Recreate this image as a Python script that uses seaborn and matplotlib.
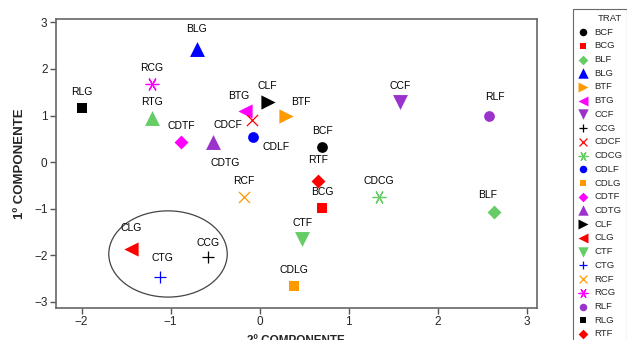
import matplotlib
matplotlib.use("Agg")
import matplotlib.pyplot as plt
from matplotlib.patches import Ellipse
import seaborn as sns

# Tratamientos y coordenadas en los dos primeros componentes
tratamientos = ["BCF", "BCG", "BLF", "BLG", "BTF", "BTG", "CCF", "CCG",
                "CDCF", "CDCG", "CDLF", "CDLG", "CDTF", "CDTG", "CLF", "CLG",
                "CTF", "CTG", "RCF", "RCG", "RLF", "RLG", "RTF", "RTG"]
comp2 = [0.70, 0.70, 2.63, -0.71, 0.30, -0.17, 1.58, -0.58,
         -0.09, 1.34, -0.08, 0.38, -0.88, -0.52, 0.09, -1.45,
         0.48, -1.12, -0.18, -1.21, 2.57, -2.00, 0.65, -1.21]
comp1 = [0.32, -0.99, -1.07, 2.42, 0.99, 1.09, 1.30, -2.04,
         0.90, -0.75, 0.53, -2.66, 0.43, 0.43, 1.29, -1.87,
         -1.65, -2.47, -0.75, 1.67, 0.99, 1.16, -0.41, 0.94]

# Elipse que agrupa CLG, CTG y CCG
elipse_centro = (-1.03, -1.97)
elipse_ancho = 1.33
elipse_alto = 1.85

# Estilo tipo Minitab: colores y simbolos ciclicos
colores = ["black", "#ff0000", "#66cc66", "#0000ff", "#ff9900", "#ff00ff", "#9933cc"]
marcadores = ["o", "s", "D", "^", ">", "<", "v", "+", "x", (6, 2, 90)]
tamanos = {"o": 60, "s": 50, "D": 50, "^": 115, ">": 105, "<": 105, "v": 115,
           "+": 85, "x": 65, (6, 2, 90): 85}

# desplazamiento de las etiquetas en pixeles (por defecto arriba)
offsets = {"CDLF": (10, -5, "left"), "CDCF": (-9, 0, "right"),
           "CDTG": (12, -16, "center"), "BTG": (-6, 10, "center"),
           "BTF": (14, 9, "center"), "BLG": (0, 15, "center"),
           "RTF": (0, 16, "center"), "CLG": (1, 16, "center"),
           "CTG": (2, 14, "center"), "CCG": (0, 9, "center"),
           "RLF": (6, 14, "center"), "BLF": (-6, 12, "center")}

sns.set_theme(style="white")
plt.rcParams["font.family"] = ["Liberation Sans", "DejaVu Sans"]

fig = plt.figure(figsize=(6.27, 3.40), dpi=100)
ax = fig.add_axes([0.089, 0.094, 0.767, 0.850])

for i, t in enumerate(tratamientos):
    m = marcadores[i % len(marcadores)]
    c = colores[i % len(colores)]
    lw = 0.9 if m in ("+", "x", (6, 2, 90)) else 0
    sns.scatterplot(x=[comp2[i]], y=[comp1[i]], marker=m, color=c,
                    s=tamanos[m], linewidth=lw, edgecolor=c if lw == 0 else None,
                    ax=ax, label=t, legend=False)
    dx, dy, ha = offsets.get(t, (0, 11, "center"))
    ax.annotate(t, (comp2[i], comp1[i]), xytext=(dx, dy),
                textcoords="offset pixels", ha=ha, va="bottom" if dy > 0 else "top",
                fontsize=7.5, color="black")

ax.add_patch(Ellipse(elipse_centro, elipse_ancho, elipse_alto,
                     fill=False, edgecolor="#444444", linewidth=0.9))

ax.set_xlim(-2.29, 3.11)
ax.set_ylim(-3.13, 3.07)
ax.set_xticks([-2, -1, 0, 1, 2, 3])
ax.set_yticks([-3, -2, -1, 0, 1, 2, 3])
ax.tick_params(axis="both", which="both", direction="out", length=4, width=1,
               color="#555555", labelsize=8.5, bottom=True, left=True, pad=2)
for sp in ax.spines.values():
    sp.set_color("#666666")
    sp.set_linewidth(1.2)

ax.set_xlabel("2º COMPONENTE", fontsize=8.5, fontweight="bold", labelpad=5,
              family=["Liberation Sans Narrow", "Liberation Sans", "DejaVu Sans"])
ax.set_ylabel("1º COMPONENTE", fontsize=9.5, fontweight="bold", labelpad=6,
              family=["Liberation Sans Narrow", "Liberation Sans", "DejaVu Sans"])

handles, labels = ax.get_legend_handles_labels()
leg = fig.legend(handles, labels, title="TRAT", loc="upper left",
                 bbox_to_anchor=(0.907, 0.987), bbox_transform=fig.transFigure,
                 fontsize=6.8, title_fontsize=6.8, frameon=True, fancybox=False,
                 handlelength=1.0, handletextpad=0.7, labelspacing=0.5,
                 borderpad=0.5, markerscale=0.7, alignment="right")
leg.get_frame().set_edgecolor("#444444")
leg.get_frame().set_linewidth(0.8)

fig.savefig("out.png", dpi=100)
